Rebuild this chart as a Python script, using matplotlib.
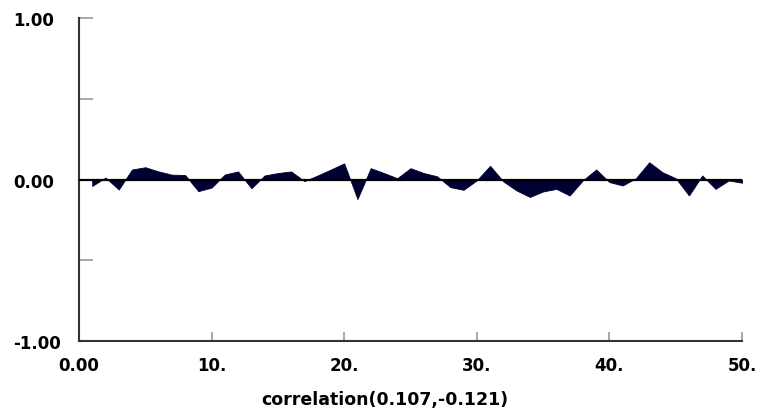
import matplotlib
matplotlib.use("Agg")
import matplotlib.pyplot as plt
import numpy as np

lags = list(range(1, 51))
corr = [-0.040, 0.012, -0.062, 0.062, 0.076, 0.050, 0.030, 0.028, -0.072, -0.050,
        0.031, 0.050, -0.054, 0.025, 0.040, 0.050, -0.010, 0.025, 0.062, 0.100,
        -0.121, 0.070, 0.040, 0.008, 0.070, 0.040, 0.020, -0.047, -0.064, -0.005,
        0.085, -0.012, -0.068, -0.108, -0.074, -0.058, -0.099, -0.005, 0.062, -0.016,
        -0.037, 0.008, 0.107, 0.045, 0.008, -0.099, 0.025, -0.058, -0.006, -0.020]
xticks = [0, 10, 20, 30, 40, 50]
xticklabels = ["0.00", "10.", "20.", "30.", "40.", "50."]
yticks = [-1, -0.5, 0, 0.5, 1]
yticklabels = ["-1.00", "", "0.00", "", "1.00"]
xlabel = "correlation(0.107,-0.121)"

plt.rcParams['font.family'] = ['DejaVu Sans']

fig = plt.figure(figsize=(7.63, 4.14), dpi=100)
ax = fig.add_axes([0.1035, 0.174, 0.869, 0.780])

ax.fill_between(lags, corr, 0, color='#000033', linewidth=0.6, edgecolor='#000033')
ax.axhline(0, color='black', linewidth=1.6, zorder=3)

ax.set_xlim(0, 50)
ax.set_ylim(-1, 1)
ax.set_xticks(xticks)
ax.set_xticklabels(xticklabels, fontsize=12, fontweight='bold')
ax.set_yticks(yticks)
ax.set_yticklabels(yticklabels, fontsize=12, fontweight='bold')
ax.tick_params(axis='x', direction='in', length=6.5, color='#999999', width=1.2, pad=11)
ax.tick_params(axis='y', direction='in', length=10, color='#999999', width=1.2, pad=47.5)
for lbl in ax.get_yticklabels():
    lbl.set_horizontalalignment('left')

for s in ['top', 'right']:
    ax.spines[s].set_visible(False)
for s in ['left', 'bottom']:
    ax.spines[s].set_color('#333333')
    ax.spines[s].set_linewidth(1.5)

ax.set_xlabel(xlabel, fontsize=12.5, fontweight='bold')
ax.xaxis.set_label_coords(0.4615, -0.18)
ax.xaxis.label.set_verticalalignment('center')

fig.savefig('out.png', dpi=100)
